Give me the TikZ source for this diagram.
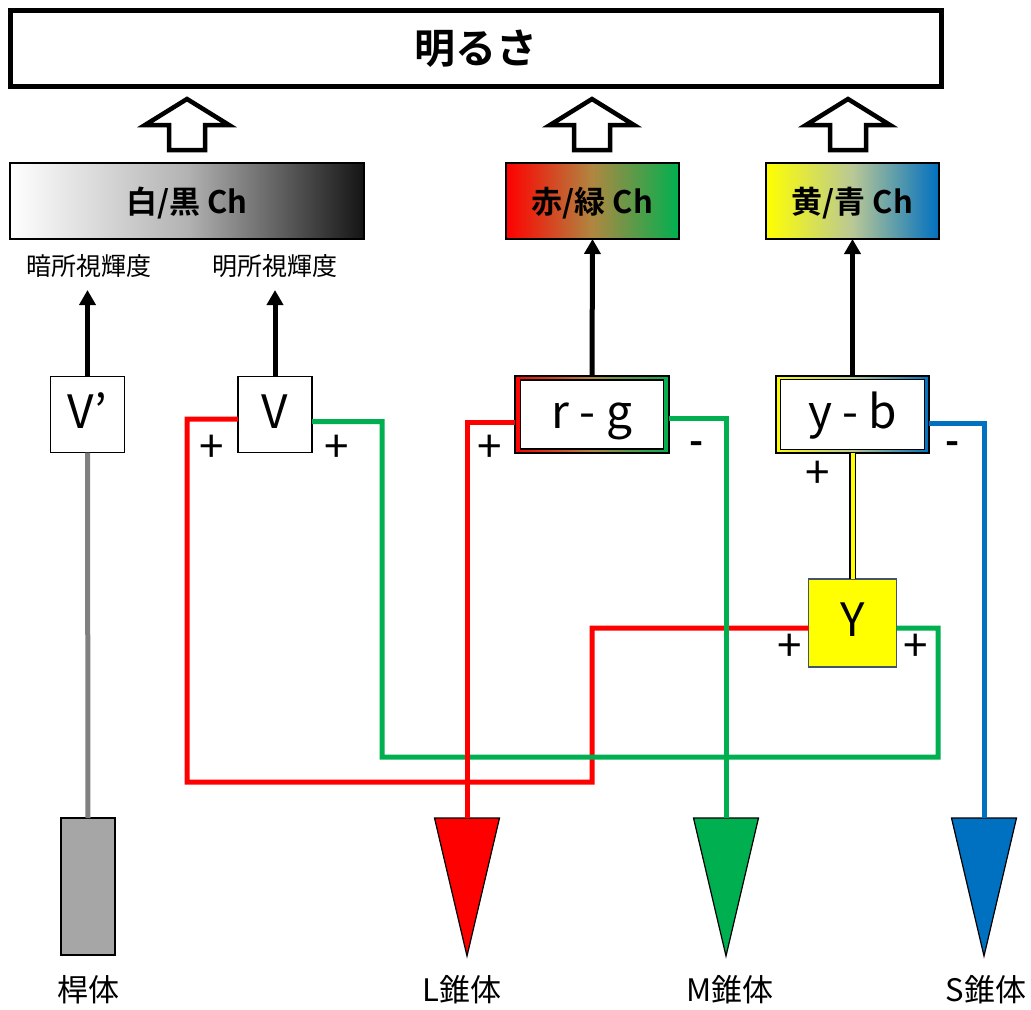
\documentclass[tikz,border=0pt]{standalone}
\usepackage{fontspec}
\setmainfont{Noto Sans CJK JP}[BoldFont={Noto Sans CJK JP Bold}]
\usetikzlibrary{arrows.meta,shapes.geometric}
\definecolor{cred}{RGB}{255,0,0}
\definecolor{cgreen}{RGB}{0,176,80}
\definecolor{cblue}{RGB}{0,112,192}
\definecolor{cyellow}{RGB}{255,255,0}
\definecolor{rgmid}{RGB}{175,135,65}
\definecolor{ybmid}{RGB}{185,200,150}
\definecolor{rodgray}{RGB}{166,166,166}
\definecolor{linegray}{RGB}{128,128,128}
\definecolor{ybord}{RGB}{68,84,106}
\begin{document}
\begin{tikzpicture}[x=1bp,y=-1bp,
  box/.style={draw=black, line width=1.2bp, inner sep=0pt, outer sep=0pt},
  chbox/.style={box, minimum height=76bp, text height=24bp, text depth=0bp,
    font=\fontsize{31bp}{36bp}\selectfont\bfseries},
  opbox/.style={box, fill=white, text height=27bp, text depth=0bp,
    font=\fontsize{46bp}{52bp}\selectfont},
  sign/.style={inner sep=0pt, font=\fontsize{44bp}{48bp}\selectfont},
  minus/.style={inner sep=0pt, font=\fontsize{38bp}{42bp}\selectfont\bfseries},
  lab/.style={inner sep=0pt, anchor=base, font=\fontsize{25bp}{30bp}\selectfont},
  celllab/.style={inner sep=0pt, anchor=base, font=\fontsize{31bp}{36bp}\selectfont},
  wire/.style={line width=5bp},
  sigarrow/.style={line width=5bp, -{Triangle[width=16bp,length=15bp]}},
  blockarr/.style={draw=black, fill=white, line width=4.5bp, line join=miter},
  cone/.style={isosceles triangle, isosceles triangle stretches, shape border rotate=270,
    minimum width=65bp, minimum height=138bp, inner sep=0pt, outer sep=0pt,
    draw=black, line width=1.2bp, anchor=lower side}
]
\useasboundingbox (0,0) rectangle (1031,1010);

% top box
\node[box, line width=5bp, minimum width=931bp, minimum height=76bp, text height=29bp, text depth=0bp,
  font=\fontsize{41bp}{48bp}\selectfont\bfseries] (bright) at (476,48.5) {明るさ};

% channel boxes
\node[chbox, minimum width=354bp, left color=white, right color=black!92, middle color=black!30] (wb) at (187,201) {白/黒 Ch};
\node[chbox, minimum width=173bp, left color=cred, right color=cgreen, middle color=rgmid] (rgch) at (592.5,201) {赤/緑 Ch};
\node[chbox, minimum width=173bp, left color=cyellow, right color=cblue, middle color=ybmid] (ybch) at (852.5,201) {黄/青 Ch};

% block arrows
\foreach \cx/\nm in {187/wb,592/rgch,848/ybch}{
  \draw[blockarr] (\cx,99) -- (\cx+42,125) -- (\cx+18,125) -- (\cx+18,150) -- (\cx-18,150) -- (\cx-18,125) -- (\cx-42,125) -- cycle;
}

% luminance labels
\node[lab] (scot) at (89,275) {暗所視輝度};
\node[lab] (phot) at (275,275) {明所視輝度};
\coordinate (scotTip) at (87.5,290);
\coordinate (photTip) at (275,290);

% operator boxes
\node[opbox, minimum width=74bp, minimum height=76bp] (Vp) at (87.5,414.5) {V’};
\node[opbox, minimum width=74bp, minimum height=76bp] (V) at (275,414.5) {V};
\node[box, minimum width=154bp, minimum height=77bp, left color=cred, right color=cgreen, middle color=rgmid] (rgo) at (592,414.5) {};
\node[opbox, minimum width=143bp, minimum height=69bp] (rg) at (592,414.5) {r - g};
\node[box, minimum width=153bp, minimum height=77bp, left color=cyellow, right color=cblue, middle color=ybmid] (ybo) at (852.5,414.5) {};
\node[opbox, minimum width=144bp, minimum height=70bp] (yb) at (852.5,414.5) {y - b};
\node[opbox, fill=cyellow, draw=ybord, minimum width=88bp, minimum height=88bp] (Y) at (852.5,623) {Y};

% receptors
\node[box, fill=rodgray, minimum width=54bp, minimum height=137bp] (rod) at (88,886.5) {};
\node[cone, fill=cred] (L) at (467,818) {};
\node[cone, fill=cgreen] (M) at (726,818) {};
\node[cone, fill=cblue] (S) at (984,818) {};

\node[celllab] (rodlab) at (88,1001) {桿体};
\node[celllab] (Llab) at (462,1001) {L錐体};
\node[celllab] (Mlab) at (730,1001) {M錐体};
\node[celllab] (Slab) at (986,1001) {S錐体};

% signal arrows
\draw[sigarrow] (Vp.north) -- (scotTip);
\draw[sigarrow] (V.north) -- (photTip);
\draw[sigarrow] (rgo.north) -- (rgch.south);
\draw[sigarrow] (ybo.north) -- (ybch.south);

% wires
\draw[wire, linegray] (Vp.south) -- (rod.north);
\draw[wire, cred] ([yshift=-4.5bp]V.west) -| (187,782) -| (592,628) -- ([yshift=-5bp]Y.west);
\draw[wire, cgreen] ([yshift=-7bp]V.east) -| (382,757) -| (938,628) -- ([yshift=-5bp]Y.east);
\draw[wire, cred] ([yshift=-7.5bp]rgo.west) -| (L.lower side);
\draw[wire, cgreen] ([yshift=-4bp]rgo.east) -| (M.lower side);
\draw[wire, cblue] ([yshift=-8.5bp]ybo.east) -| (S.lower side);
\draw[draw=black, line width=1.2bp, double=cyellow, double distance=4bp] (ybo.south) -- (Y.north);

% signs
\node[sign] (pV1) at (212,449) {+};
\node[sign] (pV2) at (337,449) {+};
\node[sign] (prg) at (490,449) {+};
\node[minus] (mrg) at (697,448) {-};
\node[sign] (pyb) at (818,475) {+};
\node[minus] (myb) at (953,448) {-};
\node[sign] (pY1) at (790,648) {+};
\node[sign] (pY2) at (916,648) {+};
\end{tikzpicture}
\end{document}
